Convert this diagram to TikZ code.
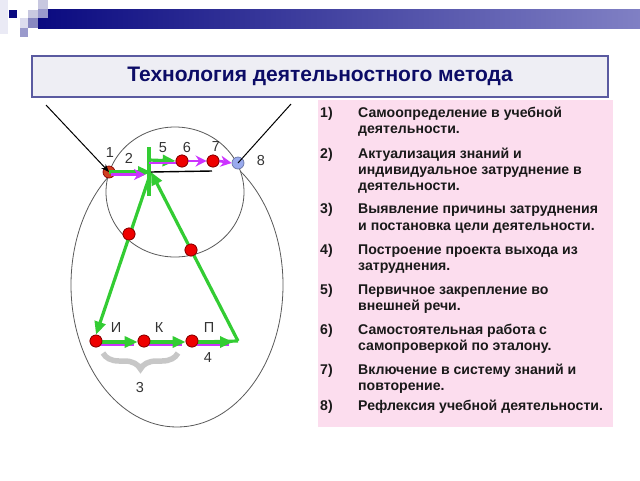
\documentclass[tikz,border=0pt]{standalone}
\usepackage{fontspec}
\setmainfont{Liberation Sans}
\usetikzlibrary{arrows.meta,decorations.pathreplacing}
\definecolor{navy}{HTML}{0A0A80}
\definecolor{navylight}{HTML}{8080C4}
\definecolor{titlefill}{HTML}{EEEEF4}
\definecolor{titleborder}{HTML}{5A5AA0}
\definecolor{titletext}{HTML}{0C0C66}
\definecolor{panelpink}{HTML}{FCDDEE}
\definecolor{gline}{HTML}{33CC33}
\definecolor{mline}{HTML}{CC33FF}
\definecolor{dotred}{HTML}{EE0000}
\definecolor{dotedge}{HTML}{880000}
\definecolor{dotone}{HTML}{D04020}
\definecolor{dotblue}{HTML}{99AAEE}
\definecolor{labgray}{HTML}{333333}
\definecolor{sq1}{HTML}{C8C8E0}
\definecolor{sq2}{HTML}{9A9ACC}
\definecolor{sq3}{HTML}{DCDCEE}
\definecolor{sq4}{HTML}{8888C0}
\begin{document}
\begin{tikzpicture}[x=1pt,y=-1pt,
  itemtext/.style={anchor=mid west,inner sep=0pt,text=black!90,font=\bfseries\fontsize{14.1}{16}\selectfont},
  lab/.style={inner sep=0pt,text=labgray,font=\fontsize{14.5}{16}\selectfont},
  reddot/.style={circle,fill=dotred,draw=dotedge,line width=0.7pt,minimum size=12pt,inner sep=0pt},
  garrow/.style={draw=gline,line width=3.2pt,-{Triangle[length=13pt,width=11pt]}},
  gline/.style={draw=gline,line width=3.2pt},
  marrow/.style={draw=mline,line width=2.6pt,-{Stealth[length=11pt,width=11pt,inset=3.5pt]}},
  mline/.style={draw=mline,line width=2.6pt},
  thin/.style={draw=black!65,line width=0.8pt}]
\useasboundingbox (0,0) rectangle (640,480);
% top decoration
\shade[left color=navy,right color=navylight] (38,9) rectangle (640,28);
\fill[sq3!60] (0,0) rectangle (8,34);
\fill[navy] (9,10) rectangle (17,18);
\fill[sq1] (38,0) rectangle (48,9);
\fill[sq2] (38,9) rectangle (48,18);
\fill[sq1] (28,10) rectangle (38,18);
\fill[sq3] (20,18) rectangle (28,28);
\fill[sq4] (28,18) rectangle (38,28);
\fill[sq2] (20,28) rectangle (28,37);
% title
\node (title) [draw=titleborder,line width=1.8pt,fill=titlefill,minimum width=576pt,minimum height=41pt,
  text=titletext,font=\bfseries\fontsize{21}{24}\selectfont] at (320,76.5) {Технология деятельностного метода};
% panel
\node (panel) [fill=panelpink,minimum width=295pt,minimum height=327pt,anchor=north west,inner sep=0pt] at (318,100) {};
\node (n1) [itemtext] at (320,115) {1)};
\node (t1a) [itemtext] at (358,115) {Самоопределение в учебной};
\node (t1b) [itemtext] at (358,131) {деятельности.};
\node (n2) [itemtext] at (320,156) {2)};
\node (t2a) [itemtext] at (358,156) {Актуализация знаний и};
\node (t2b) [itemtext] at (358,172) {индивидуальное затруднение в};
\node (t2c) [itemtext] at (358,188) {деятельности.};
\node (n3) [itemtext] at (320,211) {3)};
\node (t3a) [itemtext] at (358,211) {Выявление причины затруднения};
\node (t3b) [itemtext] at (358,228) {и постановка цели деятельности.};
\node (n4) [itemtext] at (320,252) {4)};
\node (t4a) [itemtext] at (358,252) {Построение проекта выхода из};
\node (t4b) [itemtext] at (358,268) {затруднения.};
\node (n5) [itemtext] at (320,292) {5)};
\node (t5a) [itemtext] at (358,292) {Первичное закрепление во};
\node (t5b) [itemtext] at (358,308) {внешней речи.};
\node (n6) [itemtext] at (320,332) {6)};
\node (t6a) [itemtext] at (358,332) {Самостоятельная работа с};
\node (t6b) [itemtext] at (358,348) {самопроверкой по эталону.};
\node (n7) [itemtext] at (320,372) {7)};
\node (t7a) [itemtext] at (358,372) {Включение в систему знаний и};
\node (t7b) [itemtext] at (358,388) {повторение.};
\node (n8) [itemtext] at (320,408) {8)};
\node (t8a) [itemtext] at (358,408) {Рефлексия учебной деятельности.};
% ellipses
\draw[thin] (177,285) ellipse [x radius=106, y radius=142];
\draw[thin,fill=white] (175,192) ellipse [x radius=69, y radius=65];
% coordinates
\coordinate (apex) at (151,172);
\coordinate (vtop) at (149,147);
\coordinate (vbot) at (149,196);
\coordinate (vmid) at (149,160);
\coordinate (bend) at (212,171);
\coordinate (tl) at (46,105);
\coordinate (tr) at (291,104);
\coordinate (bR) at (238,341);
\coordinate (m1s) at (111,174.5);
\coordinate (m1e) at (145,174.5);
\coordinate (m2s) at (149,163);
\coordinate (m2e) at (178,163);
% dots (nodes)
\node (p1) [reddot,fill=dotone] at (109,172) {};
\node (p6) [reddot] at (182,161) {};
\node (p7) [reddot] at (213,161) {};
\node (p8) [reddot,fill=dotblue,draw=dotblue!70!black] at (238,163) {};
\node (pl) [reddot] at (129,234) {};
\node (pr) [reddot] at (191,250) {};
\node (pI) [reddot] at (96,341) {};
\node (pK) [reddot] at (144,341) {};
\node (pP) [reddot] at (192,341) {};
% magenta under bottom arrows
\coordinate (b1s) at (101,344.5); \coordinate (b1e) at (134,344.5);
\coordinate (b2s) at (149,344.5); \coordinate (b2e) at (182,344.5);
\coordinate (b3s) at (197,344.5); \coordinate (b3e) at (229,344.5);
\draw[mline,line width=2pt] (b1s) -- (b1e);
\draw[mline,line width=2pt] (b2s) -- (b2e);
\draw[mline,line width=2pt] (b3s) -- (b3e);
% green triangle
\draw[garrow] (apex) -- (pI.north);
\draw[garrow] (bR) -- (apex);
\draw[gline] (vtop) -- (vbot);
\draw[garrow] (p1.center) -- (apex);
\draw[garrow] (vmid) -- (p6.west);
\draw[garrow] ([yshift=-1pt]pI.east) -- ([yshift=-1pt]pK.west);
\draw[garrow] ([yshift=-1pt]pK.east) -- ([yshift=-1pt]pP.west);
\draw[gline] ([yshift=-1pt]pP.east) -- (bR);
\draw[garrow] ([yshift=-1pt]pP.east) -- ([xshift=-5pt,yshift=-1pt]bR);
% magenta
\draw[marrow] (m1s) -- (m1e);
\draw[mline] (m2s) -- (m2e);
\draw[marrow] (p6.east) -- (p7.west);
\draw[marrow] (p7.east) -- (p8.west);
% black lines
\draw[black,line width=1.4pt] (apex) -- (bend);
\draw[black,line width=1pt,-{Stealth[length=8pt,width=6pt]}] (tl) -- (p1.center);
\draw[black,line width=1pt] (p8.center) -- (tr);
% redraw dots on top
\node[reddot] at (p6) {};
\node[reddot] at (p7) {};
\node[reddot] at (pl) {};
\node[reddot] at (pr) {};
\node[reddot] at (pI) {};
\node[reddot] at (pK) {};
\node[reddot] at (pP) {};
% brace
\coordinate (brL) at (103,353);
\coordinate (brR) at (178,353);
\draw[decorate,decoration={brace,amplitude=16pt,mirror},draw=black!22,line width=5.5pt] (brL) -- (brR);
% labels
\node (l1) [lab] at (110,153) {1};
\node (l2) [lab] at (129,158) {2};
\node (l5) [lab] at (163,148) {5};
\node (l6) [lab] at (187,148) {6};
\node (l7) [lab] at (216,147) {7};
\node (l8) [lab] at (261,161) {8};
\node (lI) [lab] at (116,328) {И};
\node (lK) [lab] at (159,328) {К};
\node (lP) [lab] at (209,328) {П};
\node (l4) [lab] at (208,358) {4};
\node (l3) [lab] at (140,388) {3};
\end{tikzpicture}
\end{document}
